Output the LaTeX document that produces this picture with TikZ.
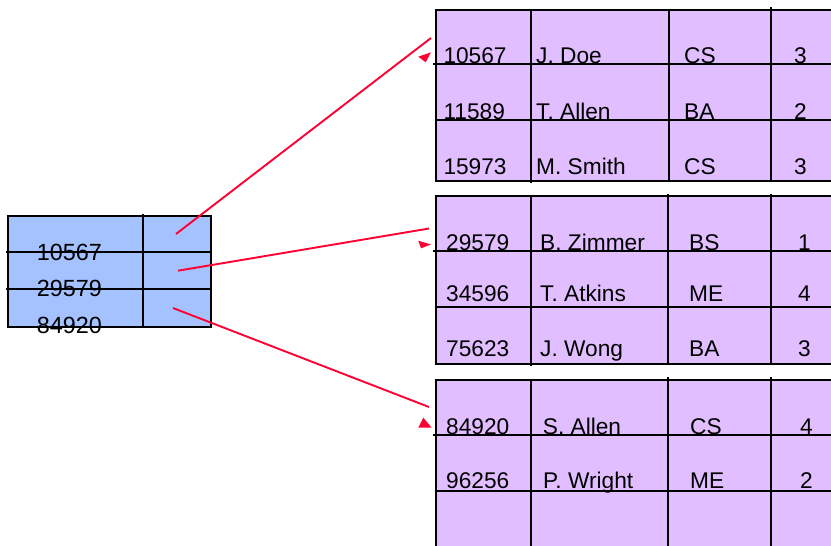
\documentclass[tikz,border=0pt]{standalone}
\usepackage{fontspec}
\setmainfont{Liberation Sans}
\definecolor{idxblue}{RGB}{164,194,255}
\definecolor{tblpurple}{RGB}{225,190,255}
\definecolor{ptrred}{RGB}{255,0,51}
\tikzset{
  gridline/.style={black, line width=1.9pt},
  celltext/.style={anchor=base west, inner sep=0pt, font=\fontsize{22.7}{27}\selectfont},
  idxtext/.style={anchor=base west, inner sep=0pt, font=\fontsize{23.4}{28}\selectfont},
  ptr/.style={ptrred, line width=1.9pt},
  ptrhead/.style={fill=ptrred, draw=none},
}
\begin{document}
\begin{tikzpicture}[x=1pt,y=-1pt]
\path[use as bounding box, clip] (0,0) rectangle (831,546);

% ---------- index block ----------
\fill[idxblue] (8,216) rectangle (210.7,326.7);
\draw[gridline] (8,216) rectangle (210.7,326.7);
\draw[gridline] (6,252.3) -- (210.7,252.3);
\draw[gridline] (6,288.7) -- (210.7,288.7);
\draw[gridline] (142.7,214) -- (142.7,326.7);
\node[idxtext] (k1) at (36.7,260) {10567};
\node[idxtext] (k2) at (36.7,296.7) {29579};
\node[idxtext] (k3) at (36.7,333.5) {84920};

% ---------- data blocks ----------
% block 1
\fill[tblpurple] (436,10) rectangle (840,181);
\draw[gridline] (436,10) rectangle (840,181);
\draw[gridline] (433.3,64.3) -- (840,64.3);
\draw[gridline] (436,120) -- (840,120);
\draw[gridline] (530.7,10) -- (530.7,182.5);
\draw[gridline] (668.7,10) -- (668.7,181);
\draw[gridline] (770.7,7.3) -- (770.7,181);
\node[celltext] (a11) at (443.3,63) {10567};
\node[celltext] (a12) at (536,63) {J. Doe};
\node[celltext] (a13) at (684,63) {CS};
\node[celltext] (a14) at (794,63) {3};
\node[celltext] (a21) at (443.3,119) {11589};
\node[celltext] (a22) at (536,119) {T. Allen};
\node[celltext] (a23) at (684,119) {BA};
\node[celltext] (a24) at (794,119) {2};
\node[celltext] (a31) at (443.3,174) {15973};
\node[celltext] (a32) at (536,174) {M. Smith};
\node[celltext] (a33) at (684,174) {CS};
\node[celltext] (a34) at (794,174) {3};

% block 2
\fill[tblpurple] (436,196) rectangle (840,364);
\draw[gridline] (436,196) rectangle (840,364);
\draw[gridline] (433.3,251) -- (840,251);
\draw[gridline] (436,306.7) -- (840,306.7);
\draw[gridline] (530.7,196) -- (530.7,366);
\draw[gridline] (668.3,194) -- (668.3,364);
\draw[gridline] (770.7,194) -- (770.7,364);
\node[celltext] (b11) at (446,250) {29579};
\node[celltext] (b12) at (540,250) {B. Zimmer};
\node[celltext] (b13) at (689,250) {BS};
\node[celltext] (b14) at (798,250) {1};
\node[celltext] (b21) at (446,301.7) {34596};
\node[celltext] (b22) at (540,301.7) {T. Atkins};
\node[celltext] (b23) at (689,301.7) {ME};
\node[celltext] (b24) at (798,301.7) {4};
\node[celltext] (b31) at (446,356.7) {75623};
\node[celltext] (b32) at (540,356.7) {J. Wong};
\node[celltext] (b33) at (689,356.7) {BA};
\node[celltext] (b34) at (798,356.7) {3};

% block 3
\fill[tblpurple] (436,380) rectangle (840,560);
\draw[gridline] (436,380) rectangle (840,560);
\draw[gridline] (433.3,435) -- (840,435);
\draw[gridline] (436,490.7) -- (840,490.7);
\draw[gridline] (530.7,380) -- (530.7,560);
\draw[gridline] (668.3,377.3) -- (668.3,560);
\draw[gridline] (770.7,377.3) -- (770.7,560);
\node[celltext] (c11) at (446,434) {84920};
\node[celltext] (c12) at (542.7,434) {S. Allen};
\node[celltext] (c13) at (690,434) {CS};
\node[celltext] (c14) at (800,434) {4};
\node[celltext] (c21) at (446,488.3) {96256};
\node[celltext] (c22) at (543,488.3) {P. Wright};
\node[celltext] (c23) at (690,488.3) {ME};
\node[celltext] (c24) at (800,488.3) {2};

% ---------- pointers ----------
\coordinate (p1s) at (176,234);
\coordinate (p1e) at (431,38);
\coordinate (p2s) at (178,270.7);
\coordinate (p2e) at (429,228.5);
\coordinate (p3s) at (173,308);
\coordinate (p3e) at (429,407);
\draw[ptr] (p1s) -- (p1e);
\draw[ptr] (p2s) -- (p2e);
\draw[ptr] (p3s) -- (p3e);
\fill[ptrhead] (418.3,56.7) -- (431,52.3) -- (425.7,62.3) -- cycle;
\fill[ptrhead] (418.3,240.7) -- (431,244.5) -- (421,248.3) -- cycle;
\fill[ptrhead] (423.3,417.7) -- (431.7,427.7) -- (418.3,427.7) -- cycle;
\end{tikzpicture}
\end{document}
